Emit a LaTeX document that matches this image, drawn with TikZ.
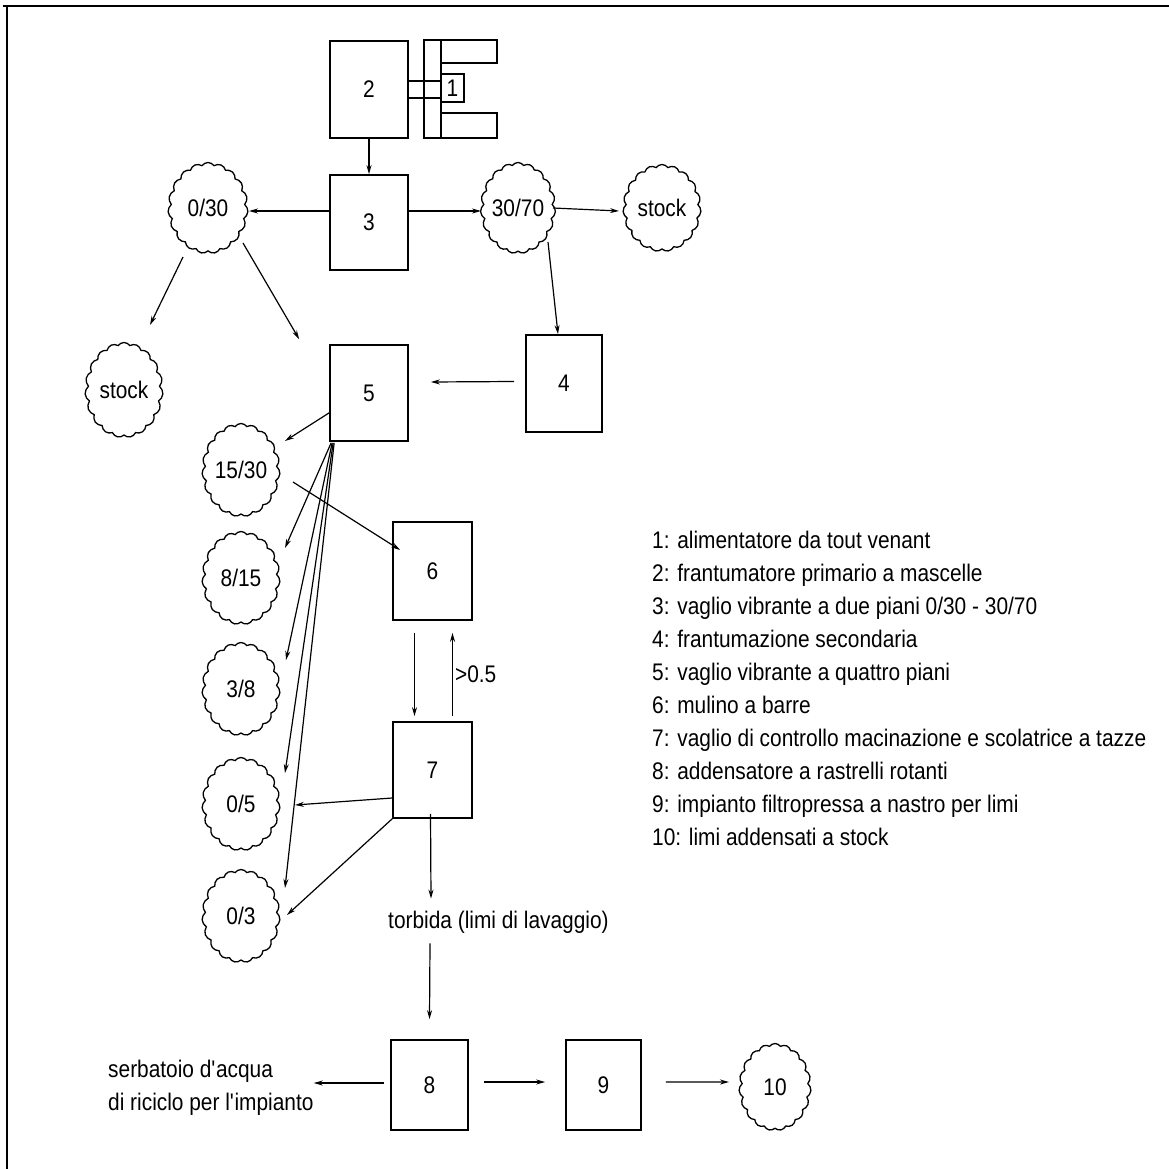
\documentclass[tikz,border=0pt]{standalone}
\usepackage{fontspec}
\setmainfont{Liberation Sans}[FakeStretch=0.87]
\usetikzlibrary{shapes.symbols,arrows.meta,calc}
\begin{document}
\begin{tikzpicture}[x=1pt,y=-1pt,
  box/.style={draw, line width=1.7pt, minimum width=78pt, minimum height=96pt, inner sep=0pt, font=\fontsize{24}{28}\selectfont},
  puff/.style={cloud, cloud puffs=19, cloud puff arc=110, cloud ignores aspect, draw, line width=1.3pt, inner sep=0pt, minimum width=78pt, minimum height=93pt, font=\fontsize{24}{28}\selectfont},
  arr/.style={-{Stealth[length=9pt,width=5pt]}, line width=1.2pt},
  lbl/.style={inner sep=0pt, font=\fontsize{24}{33}\selectfont}]
\useasboundingbox (0,0) rectangle (1169,1169);
% frame
\draw[line width=1.6pt] (3,6) -- (1169,6);
\draw[line width=1.6pt] (7,6) -- (7,1169);

% boxes
\node[box, minimum height=97pt] (b2) at (369,89.5) {2};
\node[box, minimum height=95pt] (b3) at (369,222.5) {3};
\node[box, minimum width=76pt, minimum height=97pt] (b4) at (564,383.5) {4};
\node[box] (b5) at (369,393) {5};
\node[box, minimum width=79pt, minimum height=98pt] (b6) at (432.5,571) {6};
\node[box, minimum width=79pt] (b7) at (432.5,770) {7};
\node[box, minimum width=77pt, minimum height=90pt] (b8) at (429.5,1085) {8};
\node[box, minimum width=75pt, minimum height=90pt] (b9) at (603.5,1085) {9};

% feeder 1
\draw[line width=1.7pt] (424,40) rectangle (441,138);
\draw[line width=1.7pt] (441,40) rectangle (497,63);
\draw[line width=1.7pt] (441,113) rectangle (497,138);
\node[draw, line width=1.7pt, minimum width=23pt, minimum height=28pt, inner sep=0pt, font=\fontsize{24}{28}\selectfont] (f1) at (452.5,88) {1};
\draw[line width=1.7pt] (b2.east |- 0,81) -- (f1.west |- 0,81);
\draw[line width=1.7pt] (b2.east |- 0,98) -- (f1.west |- 0,98);

% clouds
\node[puff, minimum width=80pt, minimum height=91pt] (c030) at (208,208) {0/30};
\node[puff, minimum width=74pt, minimum height=91pt] (c3070) at (518,208) {30/70};
\node[puff, minimum height=87pt] (cstA) at (662,208) {stock};
\node[puff, minimum height=95pt] (cstB) at (124,390) {stock};
\node[puff] (c1530) at (241,470) {15/30};
\node[puff] (c815) at (241,578) {8/15};
\node[puff] (c38) at (241,689) {3/8};
\node[puff] (c05) at (241,804) {0/5};
\node[puff] (c03) at (241,916) {0/3};
\node[puff, minimum width=72pt, minimum height=87pt] (c10) at (775,1087) {10};

% labels
\node[lbl, anchor=west] (tb) at (388,922) {torbida (limi di lavaggio)};
\node[lbl, anchor=west, align=left] (tank) at (108,1088) {serbatoio d\textquotesingle acqua\\di riciclo per l\textquotesingle impianto};
\node[lbl, anchor=north west, align=left] (legend) at (652,531) {1: alimentatore da tout venant\\
2: frantumatore primario a mascelle\\
3: vaglio vibrante a due piani 0/30 - 30/70\\
4: frantumazione secondaria\\
5: vaglio vibrante a quattro piani\\
6: mulino a barre\\
7: vaglio di controllo macinazione e scolatrice a tazze\\
8: addensatore a rastrelli rotanti\\
9: impianto filtropressa a nastro per limi\\
10: limi addensati a stock};

% connectors
\draw[arr] (b2) -- (b3);
\draw[arr] (b3.west |- 0,211) -- ($(c030)+(41,3)$);
\draw[arr] (b3.east |- 0,211) -- ($(c3070)+(-37,3)$);
\draw[arr] ($(c3070)+(35,0)$) -- ($(cstA)+(-43,3)$);
\draw[arr] ($(c3070)+(30,34)$) -- ($(b4.north)+(-6,0)$);
\draw[arr] ($(b4.west)+(-11,-2)$) -- ($(b5.east)+(22,-11)$);
\draw[arr] ($(c030)+(-25,49)$) -- ($(cstB)+(26,-65)$);
\draw[arr] ($(c030)+(35,35)$) -- ($(b5.north west)+(-30,-5)$);
\draw[arr] ($(b5.south west)+(0,-29)$) -- ($(c1530)+(44,-29)$);
\draw[arr] ($(c1530.east)+(13,12)$) -- ($(b6.west)+(8,-21)$);
\draw[arr] ($(b5.south west)+(2,1)$) -- ($(c815)+(44,-30)$);
\draw[arr] ($(b5.south west)+(3,1)$) -- ($(c38)+(45,-29)$);
\draw[arr] ($(b5.south west)+(4,1)$) -- ($(c05)+(44,-31)$);
\draw[arr] ($(b5.south west)+(5,1)$) -- ($(c03)+(44,-28)$);
\draw[arr] ($(b6.south)+(-18,12)$) -- ($(b7.north)+(-18,-5)$);
\draw[arr] ($(b7.north)+(20,-5)$) -- node[lbl, right=2pt] {>0.5} ($(b6.south)+(20,12)$);
\draw[arr] ($(b7.west)+(0,28)$) -- ($(c05)+(54,1)$);
\draw[arr] (b7.south west) -- ($(c03)+(46,-1)$);
\draw[arr] ($(b7.south)+(-2,-5)$) -- ($(tb.north west)+(43,-12)$);
\draw[arr] ($(tb.south west)+(42,10)$) -- ($(b8.north)+(0,-20)$);
\draw[arr] ($(b8.west)+(-6,-2)$) -- ($(tank.east |- b8.west)+(0,-2)$);
\draw[arr] ($(b8.east)+(15,-3)$) -- ($(b9.west)+(-20,-3)$);
\draw[arr] ($(b9.east)+(24,-3)$) -- ($(c10.west)+(-10,-5)$);
\end{tikzpicture}
\end{document}
